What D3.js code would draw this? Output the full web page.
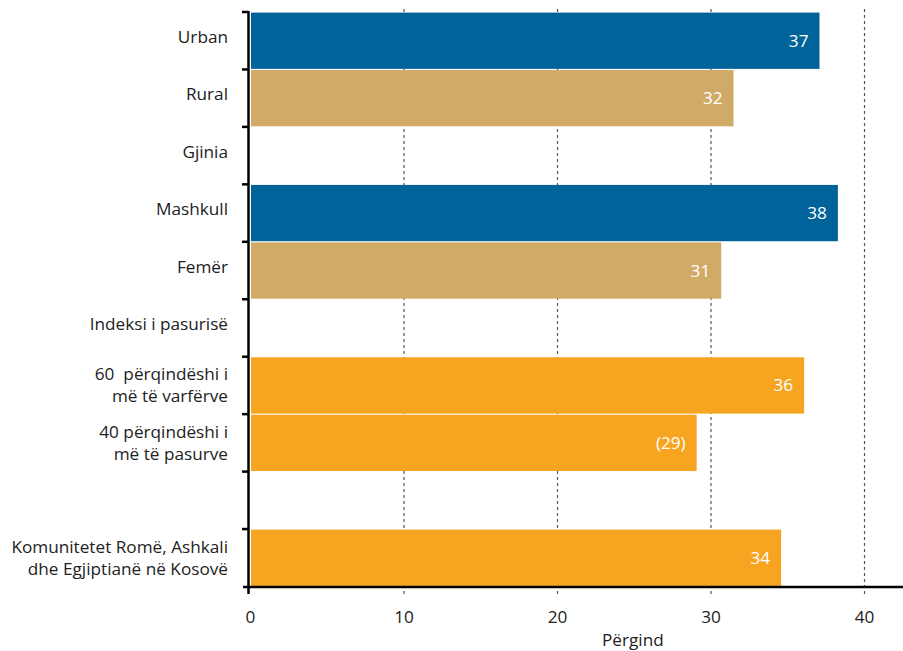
<!DOCTYPE html>
<html><head><meta charset="utf-8">
<script src="https://cdn.jsdelivr.net/npm/d3@7"></script>
<style>body{margin:0;background:#fff}svg{display:block;font-family:"Open Sans",sans-serif}text{white-space:pre}</style>
</head><body><svg id="c" width="903" height="651"></svg>
<script>
const categories = ["Urban","Rural","Gjinia","Mashkull","Femër","Indeksi i pasurisë","60  përqindëshi i|më të varfërve","40 përqindëshi i|më të pasurve","","Komunitetet Romë, Ashkali|dhe Egjiptianë në Kosovë"];
const values = [37.1, 31.5, null, 38.3, 30.7, null, 36.1, 29.1, null, 34.6];
const valueLabels = ["37","32","","38","31","","36","(29)","","34"];
const colorGroups = ["blue","tan","","blue","tan","","orange","orange","","orange"];
const colorMap = {blue:"#00649b", tan:"#d2aa68", orange:"#f7a521"};
const xTicks = [0,10,20,30,40];
const xTitle = "Përgind";

const svg = d3.select("#c");
const ids = categories.map((c,i)=>i);
const y = d3.scaleBand().domain(ids).range([12,586.5]).paddingInner(0.02).paddingOuter(0.01);
const x = d3.scaleLinear().domain([0,42.54]).range([250,903]);
const axisY = 587, axisX = 248.5;
const FS = 17.2;

// grid
svg.append("g").selectAll("line").data(xTicks.filter(d=>d>0)).join("line")
  .attr("x1",d=>x(d)+0.5).attr("x2",d=>x(d)+0.5).attr("y1",9).attr("y2",595)
  .attr("stroke","#555").attr("stroke-width",1.2).attr("stroke-dasharray","3,3");

// bars
const rows = ids.filter(i=>values[i]!=null);
svg.append("g").selectAll("rect").data(rows).join("rect")
  .attr("x",x(0)+1).attr("y",i=>y(i)).attr("width",i=>x(values[i])-x(0)-1).attr("height",y.bandwidth())
  .attr("fill",i=>colorMap[colorGroups[i]]);
svg.append("g").selectAll("text").data(rows).join("text")
  .attr("x",i=>x(values[i])-11).attr("y",i=>y(i)+y.bandwidth()/2+6)
  .attr("text-anchor","end").attr("fill","#fff").attr("font-size",FS).text(i=>valueLabels[i]);

// x axis
const gx = svg.append("g").attr("transform",`translate(0,${axisY})`)
  .call(d3.axisBottom(x).tickValues(xTicks).tickSize(0).tickPadding(24));
gx.select(".domain").remove();
gx.selectAll("text").attr("font-size",FS).attr("fill","#222").attr("font-family","Open Sans");
svg.append("line").attr("x1",243).attr("x2",903).attr("y1",axisY).attr("y2",axisY).attr("stroke","#000").attr("stroke-width",2.5);
svg.append("line").attr("x1",axisX).attr("x2",axisX).attr("y1",axisY).attr("y2",594).attr("stroke","#000").attr("stroke-width",2.5);
svg.append("text").attr("x",602).attr("y",646).attr("font-size",FS).attr("fill","#222").text(xTitle);

// y axis
svg.append("line").attr("x1",axisX).attr("x2",axisX).attr("y1",11).attr("y2",axisY).attr("stroke","#000").attr("stroke-width",2.5);
const step = y.step();
const bounds = d3.range(categories.length+1).map(k=> k<categories.length ? y(k)-y.paddingInner()*step/2 : y(k-1)+y.bandwidth()+y.paddingInner()*step/2);
svg.append("g").selectAll("line").data(bounds.slice(0,-1)).join("line")
  .attr("x1",242).attr("x2",axisX).attr("y1",d=>d).attr("y2",d=>d).attr("stroke","#000").attr("stroke-width",2.5);
const gl = svg.append("g");
ids.forEach(i=>{
  const lines = categories[i].split("|");
  const c = y(i)+y.bandwidth()/2;
  if(lines.length===1){
    gl.append("text").attr("text-anchor","end").attr("font-size",FS).attr("fill","#222")
      .attr("x",228).attr("y",c+2).text(lines[0]);
  } else {
    lines.forEach((ln,k)=>{
      gl.append("text").attr("text-anchor","end").attr("font-size",FS).attr("fill","#222")
        .attr("x",228).attr("y",c-5+k*22).text(ln);
    });
  }
});
</script></body></html>
